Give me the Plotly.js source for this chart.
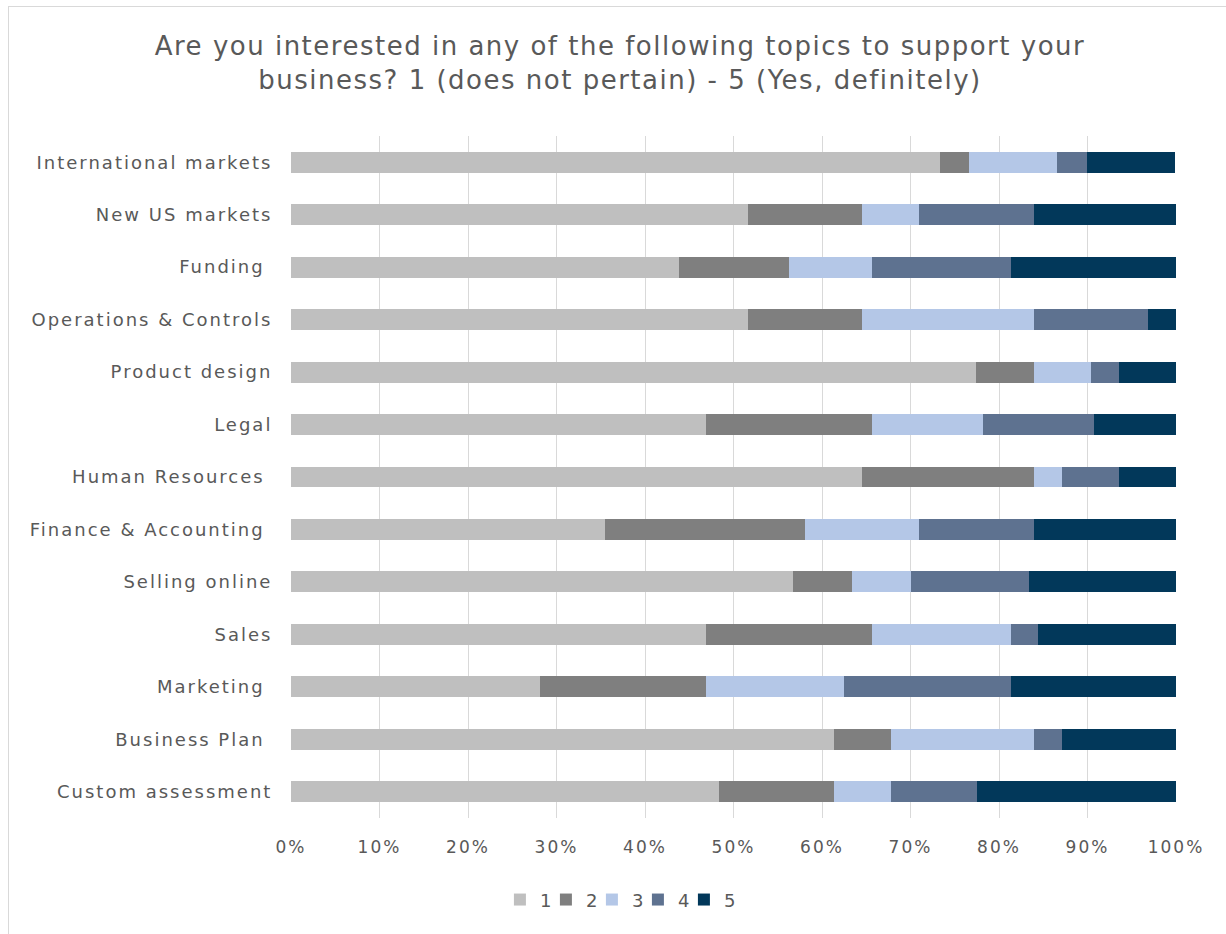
<!DOCTYPE html>
<html>
<head>
<meta charset="utf-8">
<script src="https://cdn.plot.ly/plotly-3.0.1.min.js"></script>
<style>
  html, body { margin: 0; padding: 0; background: #fff; }
  #chart { width: 1226px; height: 934px; position: relative; }
  #frame { position: absolute; left: 8px; top: 6px; width: 1400px; height: 1200px;
           border: 1px solid #d9d9d9; pointer-events: none; box-sizing: border-box; }
  #chart g.ytick text { letter-spacing: 2px; }
  #chart g.xtick text { letter-spacing: 2px; }
  #chart .gtitle { letter-spacing: 1.5px; }
  #chart g.legend g.scrollbox { clip-path: none !important; }
</style>
</head>
<body>
<div id="chart"></div>
<div id="frame"></div>
<script>
const categories = [
  "International markets",
  "New US markets",
  "Funding ",
  "Operations & Controls",
  "Product design",
  "Legal",
  "Human Resources ",
  "Finance & Accounting ",
  "Selling online",
  "Sales",
  "Marketing ",
  "Business Plan ",
  "Custom assessment"
];
const seriesNames = ["1", "2", "3", "4", "5"];
// percentage shares per category
const s1 = [73.3, 51.6, 43.8, 51.6, 77.4, 46.9, 64.5, 35.5, 56.7, 46.9, 28.1, 61.3, 48.4];
const s2 = [3.3, 12.9, 12.5, 12.9, 6.5, 18.8, 19.4, 22.6, 6.7, 18.8, 18.8, 6.5, 12.9];
const s3 = [10.0, 6.5, 9.4, 19.4, 6.5, 12.5, 3.2, 12.9, 6.7, 15.6, 15.6, 16.1, 6.5];
const s4 = [3.3, 12.9, 15.6, 12.9, 3.2, 12.5, 6.5, 12.9, 13.3, 3.1, 18.8, 3.2, 9.7];
const s5 = [10.0, 16.1, 18.8, 3.2, 6.5, 9.4, 6.5, 16.1, 16.7, 15.6, 18.8, 12.9, 22.6];
const tickLabels = categories.map(c => c.replace(/ $/, "\u00a0"));
const xTickVals = [0, 10, 20, 30, 40, 50, 60, 70, 80, 90, 100];
const xTickText = ["0%", "10%", "20%", "30%", "40%", "50%", "60%", "70%", "80%", "90%", "100%"];

const colors = ["#bfbfbf", "#7f7f7f", "#b4c7e7", "#5e7290", "#02385a"];
const allSeries = [s1, s2, s3, s4, s5];

const traces = allSeries.map((vals, i) => ({
  type: "bar",
  orientation: "h",
  name: seriesNames[i],
  x: vals,
  y: categories,
  marker: { color: colors[i], line: { width: 0 } },
  hoverinfo: "x+y+name"
}));

const font = "DejaVu Sans, sans-serif";
const layout = {
  width: 1226, height: 934,
  margin: { l: 291, r: 50, t: 136, b: 116 },
  paper_bgcolor: "#ffffff",
  plot_bgcolor: "#ffffff",
  barmode: "stack",
  bargap: 0.6,
  title: {
    text: "Are you interested in any of the following topics to support your<br>business? 1 (does not pertain) - 5 (Yes, definitely)",
    font: { family: font, size: 26, color: "#595959" },
    x: 0.5057, xanchor: "center", xref: "container",
    y: 0.941, yanchor: "top", yref: "container"
  },
  xaxis: {
    range: [0, 100],
    tickvals: xTickVals, ticktext: xTickText,
    showgrid: true, gridcolor: "#d9d9d9", gridwidth: 1,
    zeroline: false, showline: false,
    ticks: "outside", ticklen: 14, tickcolor: "rgba(0,0,0,0)",
    tickfont: { family: font, size: 17, color: "#595959" },
    fixedrange: true
  },
  yaxis: {
    type: "category",
    autorange: "reversed",
    tickvals: categories, ticktext: tickLabels,
    showgrid: false, zeroline: false, showline: false,
    ticks: "outside", ticklen: 14, tickcolor: "rgba(0,0,0,0)",
    tickfont: { family: font, size: 18, color: "#595959" },
    fixedrange: true
  },
  showlegend: true,
  legend: {
    orientation: "h",
    x: 0.366, xanchor: "center",
    y: -0.12, yanchor: "middle",
    font: { family: font, size: 18, color: "#595959" },
    itemwidth: 30,
    entrywidth: 1,
    entrywidthmode: "pixels",
    traceorder: "normal"
  }
};

Plotly.newPlot("chart", traces, layout, { displayModeBar: false });
</script>
</body>
</html>
